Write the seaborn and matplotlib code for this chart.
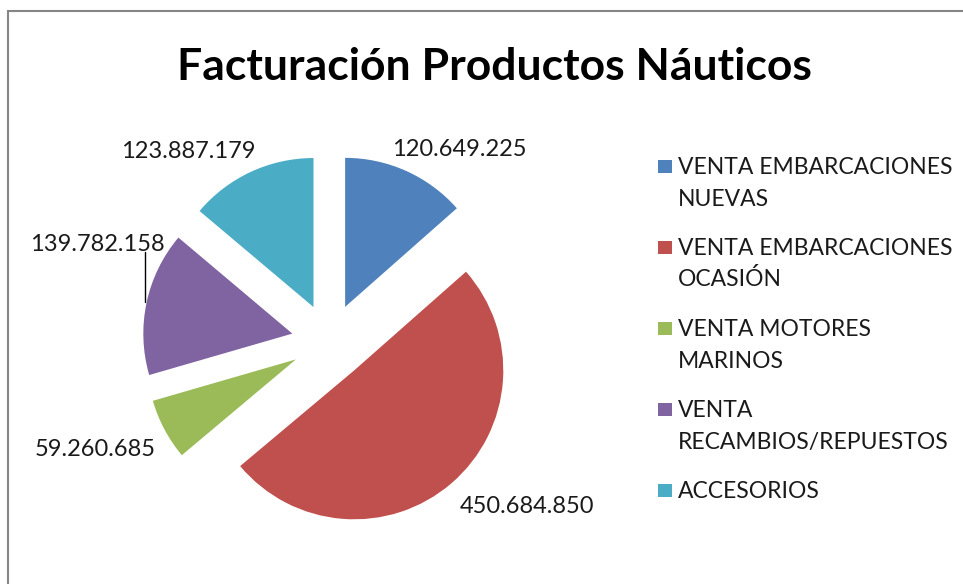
import matplotlib
matplotlib.use("Agg")
import matplotlib.pyplot as plt
import seaborn as sns
from matplotlib.patches import Rectangle

categories = ["VENTA EMBARCACIONES\nNUEVAS",
              "VENTA EMBARCACIONES\nOCASIÓN",
              "VENTA MOTORES\nMARINOS",
              "VENTA\nRECAMBIOS/REPUESTOS",
              "ACCESORIOS"]
values = [120649225, 450684850, 59260685, 139782158, 123887179]
value_labels = ["120.649.225", "450.684.850", "59.260.685", "139.782.158", "123.887.179"]
colors = ["#4F81BD", "#C0504D", "#9BBB59", "#8064A2", "#4BACC6"]
title = "Facturación Productos Náuticos"

sns.set_theme(style="white")
plt.rcParams["font.family"] = ["Lato", "DejaVu Sans"]

W, H = 963, 584
fig = plt.figure(figsize=(W / 100, H / 100), dpi=100)
fig.patch.set_facecolor("white")
ax = fig.add_axes([0, 0, 1, 1])

def py(y):
    return H - y

R = 149
CX, CY = 329.5, 341.5
wedges, _ = ax.pie(values, explode=[38] * len(values), radius=R, center=(CX, py(CY)),
                   startangle=90, counterclock=False, colors=colors,
                   wedgeprops=dict(linewidth=0))
ax.set_xlim(0, W)
ax.set_ylim(0, H)
ax.set_aspect("auto")
ax.axis("off")

# border
ax.add_patch(Rectangle((8, -10), W + 20, py(11) + 10, fill=False,
                       edgecolor="#868686", linewidth=1.5, clip_on=False))

# title
ax.text(494, py(80), title, ha="center", va="baseline", fontsize=32,
        fontweight="bold", color="black")

# data labels
label_pos = [(459, 156), (527, 513), (95, 456), (97, 251), (188, 158)]
for (x, y), t in zip(label_pos, value_labels):
    ax.text(x, py(y), t, ha="center", va="baseline", fontsize=17, color="#1a1a1a")
ax.plot([145, 145], [py(252), py(302)], color="black", linewidth=1.0)

# legend
base = 174
for lab, c in zip(categories, colors):
    lines = lab.split("\n")
    ax.add_patch(Rectangle((658, py(base - 1)), 14, 13, facecolor=c, edgecolor="none"))
    for i, ln in enumerate(lines):
        ax.text(678, py(base + i * 31.5), ln, ha="left", va="baseline",
                fontsize=16.5, color="#1a1a1a")
    base += len(lines) * 31.5 + 18

fig.savefig("out.png", dpi=100)
